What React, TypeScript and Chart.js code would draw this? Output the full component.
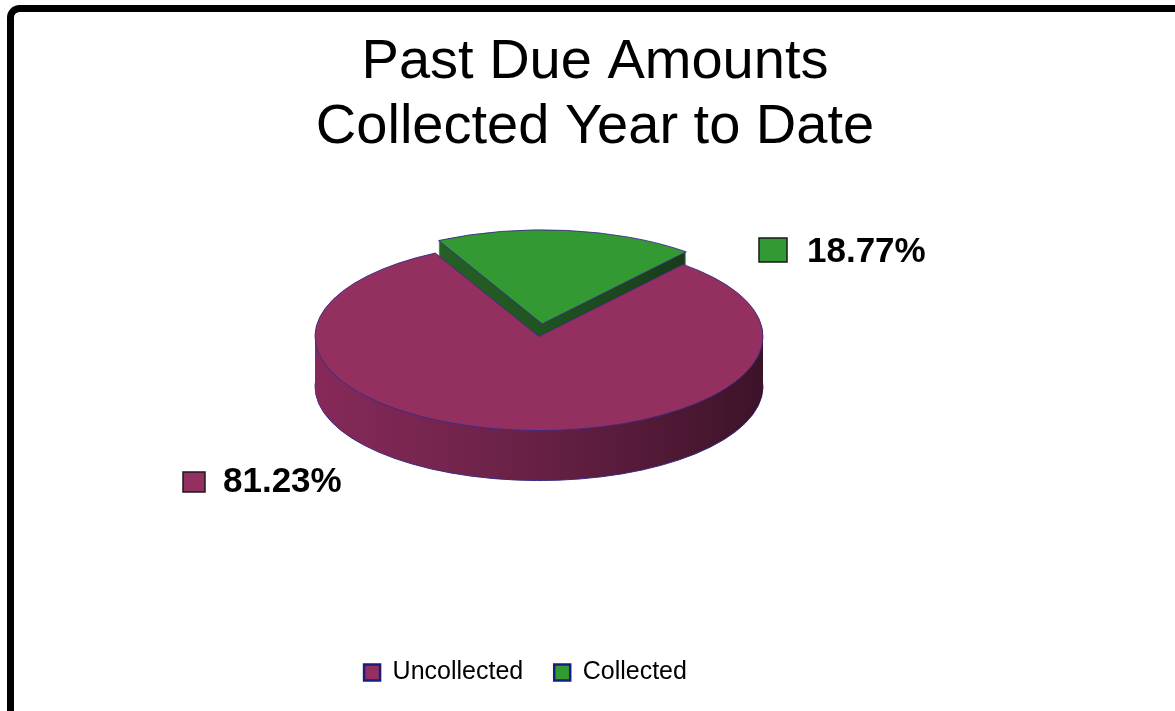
import React, { useEffect, useRef } from 'react';
import { Chart, registerables } from 'chart.js';

Chart.register(...registerables);

// ---- data ----
const categories = ['Uncollected', 'Collected'];
const percentValues = [81.23, 18.77];
const sliceColors = ['#93305f', '#339933'];
const explodeOffsets = [0, 30];
const titleLines = ['Past Due Amounts', 'Collected Year to Date'];

// ---- styles ----
const FONT = "'Liberation Sans', Arial, Helvetica, sans-serif";
const sideGradients = [
  ['#86295a', '#6e2349', '#571b3a', '#3c1328'],
  ['#2b6e2b', '#235a23', '#1b461b', '#123012'],
];
const OUTLINE = '#3a2a88';

const pie3d = {
  id: 'pie3d',
  beforeDraw(chart: any, _args: any, opts: any) {
    const ctx = chart.ctx;
    ctx.save();
    ctx.fillStyle = '#ffffff';
    ctx.fillRect(0, 0, chart.width, chart.height);
    ctx.strokeStyle = '#000';
    ctx.lineWidth = opts.borderWidth;
    ctx.beginPath();
    (ctx as any).roundRect(opts.borderX, opts.borderY, chart.width + 200, chart.height + 200, 9);
    ctx.stroke();
    ctx.restore();
  },
  beforeDatasetsDraw(chart: any, _args: any, opts: any) {
    const meta = chart.getDatasetMeta(0);
    const arcs = meta.data as any[];
    if (!arcs.length) return false;
    const ctx: CanvasRenderingContext2D = chart.ctx;
    const cx = arcs[0].x + opts.dx;
    const cy = arcs[0].y + opts.dy;
    const R = arcs[0].outerRadius;
    const k = opts.tilt;
    const depth = opts.depth;
    const mid = (a: any) => (a.startAngle + a.endAngle) / 2;
    const order = arcs.map((_, i) => i).sort((i, j) => Math.sin(mid(arcs[i])) - Math.sin(mid(arcs[j])));

    const path = (x: number, y: number, a0: number, a1: number) => {
      ctx.beginPath();
      ctx.moveTo(x, y);
      ctx.ellipse(x, y, R, R * k, 0, a0, a1);
      ctx.closePath();
    };

    ctx.save();
    for (const i of order) {
      const a = arcs[i];
      const off = a.options.offset || 0;
      const m = mid(a);
      const x = cx + Math.cos(m) * off;
      const y = cy + Math.sin(m) * off * k;
      const g = ctx.createLinearGradient(cx - R, 0, cx + R, 0);
      const stops = sideGradients[i % sideGradients.length];
      g.addColorStop(0, stops[0]);
      g.addColorStop(0.4, stops[1]);
      g.addColorStop(0.7, stops[2]);
      g.addColorStop(1, stops[3]);
      path(x, y + depth, a.startAngle, a.endAngle);
      ctx.fillStyle = g;
      ctx.fill();
      ctx.strokeStyle = OUTLINE;
      ctx.lineWidth = 1;
      ctx.stroke();
      for (let d = depth - 1; d >= 1; d--) {
        path(x, y + d, a.startAngle, a.endAngle);
        ctx.fill();
      }
      path(x, y, a.startAngle, a.endAngle);
      ctx.fillStyle = a.options.backgroundColor;
      ctx.fill();
      ctx.strokeStyle = OUTLINE;
      ctx.lineWidth = 0.9;
      ctx.stroke();
    }
    ctx.restore();
    return false;
  },
  afterDraw(chart: any, _args: any, opts: any) {
    const ctx: CanvasRenderingContext2D = chart.ctx;
    const data = chart.data.datasets[0].data as number[];
    const colors = chart.data.datasets[0].backgroundColor as string[];
    ctx.save();
    opts.labels.forEach((p: any, i: number) => {
      ctx.fillStyle = colors[i];
      ctx.fillRect(p.x, p.y, p.w, p.h);
      ctx.strokeStyle = '#1a1a1a';
      ctx.lineWidth = 1.5;
      ctx.strokeRect(p.x, p.y, p.w, p.h);
      ctx.fillStyle = '#000';
      ctx.font = `bold 35px ${FONT}`;
      ctx.textBaseline = 'middle';
      ctx.textAlign = 'left';
      ctx.fillText(`${data[i].toFixed(2)}%`, p.tx, p.ty);
    });
    ctx.restore();
  },
};

export default function App() {
  const ref = useRef<HTMLCanvasElement>(null);
  useEffect(() => {
    if (!ref.current) return;
    const chart = new Chart(ref.current, {
      type: 'pie',
      data: {
        labels: categories,
        datasets: [
          {
            data: percentValues,
            backgroundColor: sliceColors,
            borderColor: OUTLINE,
            borderWidth: 1,
            offset: explodeOffsets,
          } as any,
        ],
      },
      plugins: [pie3d as any],
      options: {
        responsive: false,
        animation: false,
        events: [],
        rotation: 40,
        radius: 224,
        layout: { padding: { bottom: 16 } },
        plugins: {
          tooltip: { enabled: false },
          title: {
            display: true,
            text: titleLines,
            color: '#000',
            font: { family: FONT, size: 56, weight: 'normal', lineHeight: 1.16 },
            padding: { top: 30, bottom: 0 },
          },
          subtitle: {
            display: true,
            position: 'right',
            text: '',
            fullSize: false,
            padding: 0,
            font: { size: 1, lineHeight: '139px' },
          },
          legend: {
            display: true,
            position: 'bottom',
            fullSize: false,
            labels: {
              color: '#000',
              font: { family: FONT, size: 25 },
              boxWidth: 16,
              boxHeight: 16,
              padding: 31,
              generateLabels: (c: any) => {
                const base = (Chart as any).overrides.pie.plugins.legend.labels.generateLabels(c);
                return base.map((l: any) => ({ ...l, strokeStyle: '#1c1c80', lineWidth: 2.5 }));
              },
            },
          },
          pie3d: {
            dx: 13.5,
            dy: -58,
            tilt: 0.42,
            depth: 50,
            borderX: 10.5,
            borderY: 8.5,
            borderWidth: 7,
            labels: [
              { x: 183, y: 472, w: 22, h: 20, tx: 223, ty: 482 },
              { x: 759, y: 238, w: 28, h: 24, tx: 807, ty: 252 },
            ],
          },
        } as any,
      },
    });
    return () => chart.destroy();
  }, []);

  return (
    <div
      style={{
        position: 'fixed',
        left: 0,
        top: 0,
        width: 1175,
        height: 711,
        overflow: 'hidden',
        background: '#fff',
      }}
    >
      <canvas ref={ref} width={1190} height={711} style={{ display: 'block' }} />
    </div>
  );
}
